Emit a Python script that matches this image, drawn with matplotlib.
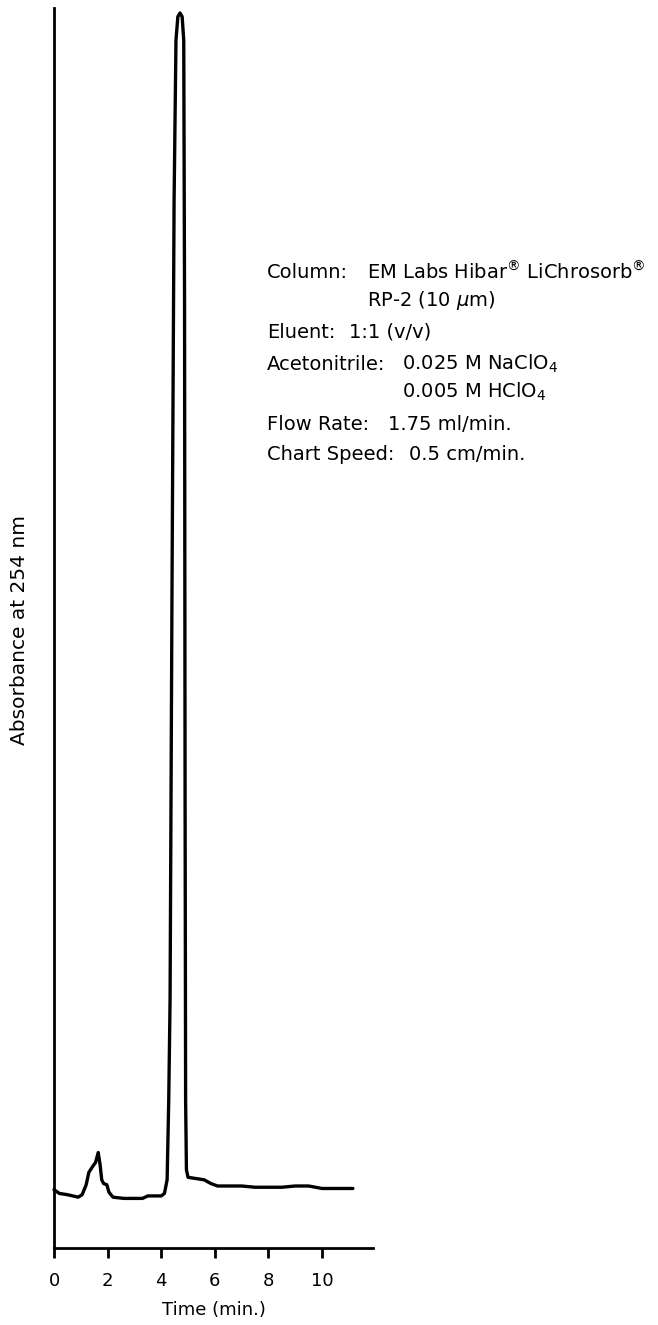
import matplotlib
matplotlib.use("Agg")
import matplotlib.pyplot as plt

plt.rcParams['font.family'] = ['DejaVu Sans']
plt.rcParams['mathtext.fontset'] = 'dejavusans'

# chromatogram trace (time in min, absorbance in arbitrary units)
time_min = [0.0, 0.2, 0.5, 0.9, 1.05, 1.2, 1.3, 1.45, 1.55, 1.65, 1.72, 1.78,
            1.85, 1.97, 2.05, 2.2, 2.6, 3.0, 3.3, 3.5, 4.0, 4.12, 4.22, 4.28,
            4.33, 4.40, 4.48, 4.55, 4.62, 4.70, 4.78, 4.84, 4.87, 4.89, 4.91,
            4.94, 5.0, 5.3, 5.6, 5.85, 6.1, 6.5, 7.0, 7.5, 8.0, 8.5, 9.0, 9.5,
            10.0, 10.5, 11.15]
absorbance = [0.047, 0.044, 0.043, 0.041, 0.043, 0.051, 0.061, 0.066, 0.069,
              0.077, 0.067, 0.055, 0.052, 0.051, 0.045, 0.041, 0.040, 0.040,
              0.040, 0.042, 0.042, 0.044, 0.055, 0.119, 0.200, 0.523, 0.845,
              0.974, 0.993, 0.996, 0.993, 0.974, 0.765, 0.361, 0.119, 0.063,
              0.057, 0.056, 0.055, 0.052, 0.050, 0.050, 0.050, 0.049, 0.049,
              0.049, 0.050, 0.050, 0.048, 0.048, 0.048]
x_ticks = [0, 2, 4, 6, 8, 10]

# run conditions: (label, value) pairs, value column indented per line
cond_labels = ["Column:", "", "Eluent:", "Acetonitrile:", "", "Flow Rate:", "Chart Speed:"]
cond_values = ["EM Labs Hibar$^{®}$ LiChrosorb$^{®}$", "RP-2 (10 $\\mu$m)", "1:1 (v/v)",
               "0.025 M NaClO$_4$", "0.005 M HClO$_4$", "1.75 ml/min.", "0.5 cm/min."]
value_x = [367, 367, 349, 402, 402, 388, 409]
line_y = [272, 300, 332, 364, 392, 424, 455]

fig = plt.figure(figsize=(6.58, 13.25), dpi=100)
ax = fig.add_axes([54 / 658, 77 / 1325, (373 - 54) / 658, (1248 - 8) / 1325])

ax.plot(time_min, absorbance, color='black', lw=2.4, solid_joinstyle='round',
        solid_capstyle='round', clip_on=False)

ax.set_xlim(0, 11.9)
ax.set_ylim(0, 1.0)
ax.set_xticks(x_ticks)
ax.set_yticks([])
ax.tick_params(axis='x', direction='out', length=7, width=2, labelsize=13, pad=10)
for s in ['top', 'right']:
    ax.spines[s].set_visible(False)
for s in ['left', 'bottom']:
    ax.spines[s].set_linewidth(2)
ax.set_xlabel('Time (min.)', fontsize=13, labelpad=8)

fig.text(20 / 658, 1 - 630 / 1325, 'Absorbance at 254 nm', fontsize=14.5,
         rotation=90, ha='center', va='center')

for lab, val, vx, y in zip(cond_labels, cond_values, value_x, line_y):
    if lab:
        fig.text(267 / 658, 1 - y / 1325, lab, fontsize=14, va='center', ha='left')
    fig.text(vx / 658, 1 - y / 1325, val, fontsize=14, va='center', ha='left')

fig.savefig('out.png', dpi=100)
